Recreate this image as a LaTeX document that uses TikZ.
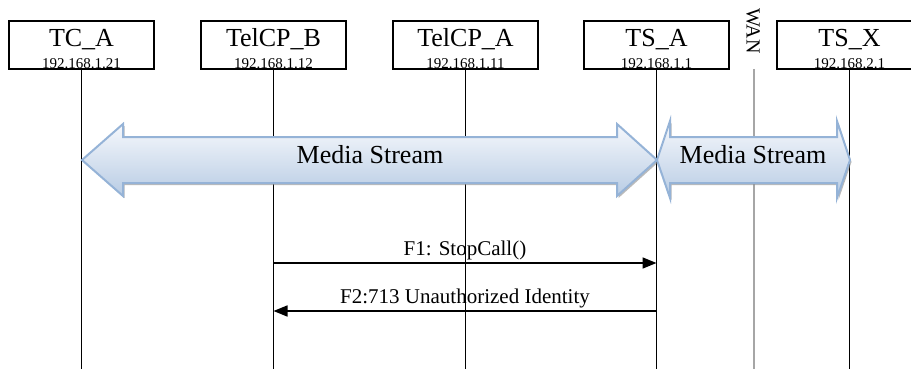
\documentclass[tikz,border=0pt]{standalone}
\usepackage{fontspec}
\setmainfont{Liberation Serif}
\usetikzlibrary{arrows.meta,shadows}
\definecolor{msborder}{HTML}{95B3D7}
\definecolor{mstop}{HTML}{F6F8FC}
\definecolor{msbot}{HTML}{B8CCE4}
\tikzset{
  hostbox/.style={draw=black, line width=1.8pt, minimum width=145pt, minimum height=48pt, inner sep=0pt, fill=white},
  hostname/.style={anchor=base, inner sep=0pt, font=\fontsize{26}{28}\selectfont},
  hostip/.style={anchor=base, inner sep=0pt, font=\fontsize{15}{16}\selectfont},
  lifeline/.style={draw=black, line width=1.8pt},
  wanline/.style={draw=black!35, line width=1.2pt},
  msg/.style={draw=black, line width=1.7pt, -{Triangle[length=14pt,width=11pt]}},
  msglbl/.style={anchor=base, inner sep=0pt, yshift=8pt, font=\fontsize{21}{23}\selectfont},
  media/.style={draw=msborder, line width=2pt, top color=mstop, bottom color=msbot,
    drop shadow={shadow xshift=1.5pt, shadow yshift=-2pt, fill=black!45, opacity=0.6}},
  medialbl/.style={inner sep=0pt, font=\fontsize{26}{28}\selectfont},
}
\begin{document}
\begin{tikzpicture}[x=1pt,y=-1pt]
\useasboundingbox (0,0) rectangle (911,369);
\begin{scope}
\clip (0,0) rectangle (911,369);
% host boxes
\foreach \id/\nm/\ip/\xx in {tca/TC\_A/192.168.1.21/81.5,
  tcpb/TelCP\_B/192.168.1.12/273.5,
  tcpa/TelCP\_A/192.168.1.11/465.5,
  tsa/TS\_A/192.168.1.1/656.5,
  tsx/TS\_X/192.168.2.1/849.5}{
  \node[hostbox] (\id) at (\xx,45) {};
  \node[hostname] (\id-n) at ([yshift=-2pt]\id.center) {\nm};
  \node[hostip] (\id-i) at ([yshift=-23.5pt]\id.center) {\ip};
  \coordinate (\id-end) at (\xx,369);
  \draw[lifeline] (\id.south) -- (\id-end);
}
% WAN separator
\node[rotate=-90, inner sep=0pt, font=\fontsize{20}{22}\selectfont] (wan) at (753,31) {WAN};
\coordinate (wantop) at (754,69);
\coordinate (wanbot) at (754,369);
\draw[wanline] (wantop) -- (wanbot);
% media streams
\path[media] (82,160) -- (123,124) -- (123,137) -- (617,137) -- (617,124) -- (657,160)
  -- (617,196) -- (617,183) -- (123,183) -- (123,196) -- cycle;
\node[medialbl] (ms1) at (370,155) {Media Stream};
\path[media] (657,160) -- (670,121) -- (670,137) -- (837,137) -- (837,121) -- (850,160)
  -- (837,198) -- (837,183) -- (670,183) -- (670,198) -- cycle;
\node[medialbl] (ms2) at (753,155) {Media Stream};
% messages
\coordinate (f1s) at (tcpb.center |- 0,263);
\coordinate (f1e) at (tsa.center |- 0,263);
\coordinate (f2s) at (tsa.center |- 0,311);
\coordinate (f2e) at (tcpb.center |- 0,311);
\draw[msg] (f1s) -- node[msglbl] {F1: StopCall()} (f1e);
\draw[msg] (f2s) -- node[msglbl] {F2:713 Unauthorized Identity} (f2e);
\end{scope}
\end{tikzpicture}
\end{document}
